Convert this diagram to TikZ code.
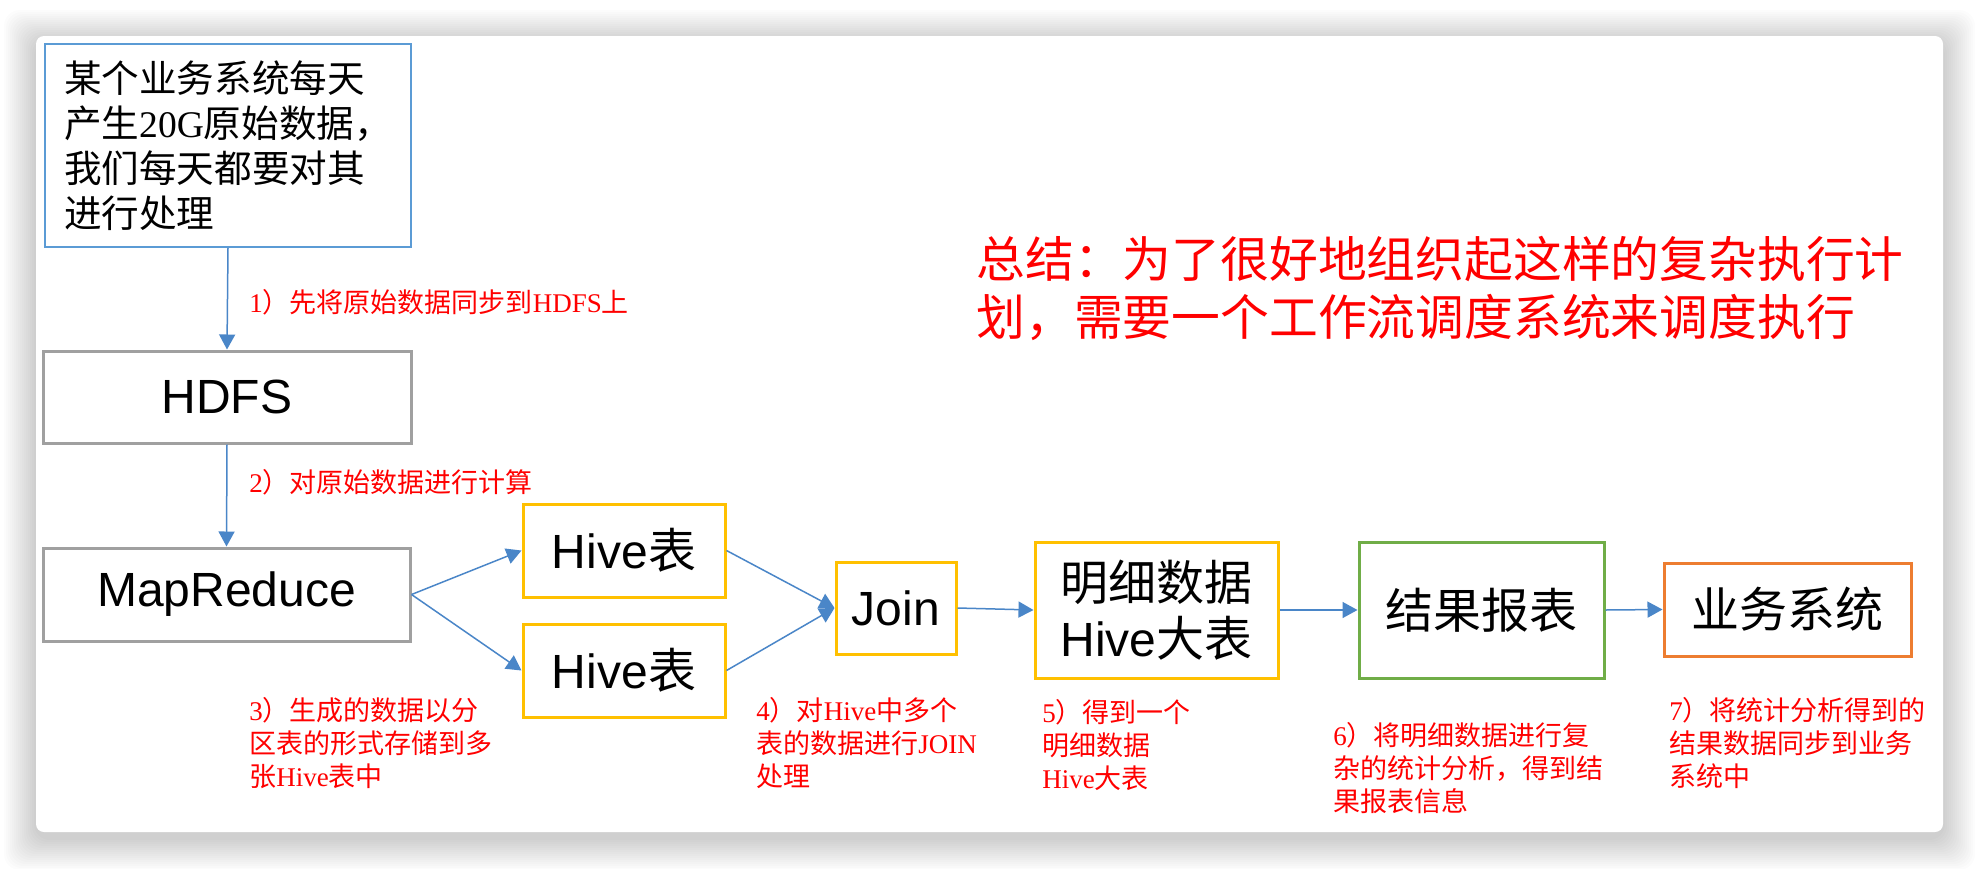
\documentclass[tikz,border=0pt]{standalone}
\usepackage{fontspec}
\setmainfont{Liberation Serif}
\newfontfamily\zhfont{Noto Sans CJK SC}
\newfontfamily\arialfont{Liberation Sans}
\usetikzlibrary{arrows.meta}
\newcommand\zh[1]{{\zhfont #1}}
\definecolor{arrowblue}{RGB}{74,134,200}
\definecolor{boxblue}{RGB}{91,155,213}
\definecolor{boxgray}{RGB}{160,160,160}
\definecolor{boxorange}{RGB}{255,192,0}
\definecolor{boxgreen}{RGB}{112,173,71}
\definecolor{boxred}{RGB}{237,125,49}
\definecolor{lblred}{RGB}{255,0,0}
\tikzset{
  box/.style={draw, line width=1.5pt, fill=white, inner sep=0pt,
    font={\arialfont\fontsize{24}{28}\selectfont}, align=center},
  lbl/.style={text=lblred, font={\fontsize{13.5}{16.5}\selectfont}, align=left,
    inner sep=0pt, anchor=north west},
  conn/.style={draw=arrowblue, line width=0.75pt,
    -{Triangle[width=8pt,length=7.5pt]}}
}
\begin{document}
\begin{tikzpicture}[x=0.5pt,y=-0.5pt]
\useasboundingbox (0,0) rectangle (1980,868);
\fill[white] (0,0) rectangle (1980,868);
% shadow
\foreach \i in {1,...,16}{
  \fill[black, opacity=0.012, rounded corners=8pt]
    ({36-2*\i},{36-2*\i+6}) rectangle ({1943+2*\i},{832+2*\i+6});
}
% card
\fill[white, rounded corners=4pt] (36,36) rectangle (1943,832);

% nodes
\node[box, draw=boxblue, line width=1pt, minimum width=183pt, minimum height=101.5pt,
  font={\zhfont\fontsize{18.8}{22.5}\selectfont}, align=left]
  (src) at (228,145.5) {某个业务系统每天\\产生{\rmfamily 20G}原始数据，\\我们每天都要对其\\进行处理};
\node[box, draw=boxgray, minimum width=184pt, minimum height=46pt] (hdfs) at (227,397) {HDFS};
\node[box, draw=boxgray, minimum width=183.5pt, minimum height=46.5pt] (mr) at (226.5,594.5) {MapReduce};
\node[box, draw=boxorange, minimum width=101pt, minimum height=46.5pt] (hive1) at (624,550.5) {Hive\zh{表}};
\node[box, draw=boxorange, minimum width=101pt, minimum height=46.5pt] (hive2) at (624,670.5) {Hive\zh{表}};
\node[box, draw=boxorange, minimum width=60pt, minimum height=46pt] (join) at (896,608) {Join};
\node[box, draw=boxorange, minimum width=121.5pt, minimum height=68pt] (mx) at (1156.5,610) {\zh{明细数据}\\Hive\zh{大表}};
\node[box, draw=boxgreen, minimum width=122.5pt, minimum height=68pt] (jg) at (1481.5,610) {\zh{结果报表}};
\node[box, draw=boxred, minimum width=123.5pt, minimum height=46.5pt] (yw) at (1787.5,609.5) {\zh{业务系统}};

% connectors
\draw[conn] (src.south) -- (hdfs.north);
\draw[conn] (hdfs.south) -- (mr.north);
\draw[conn] (mr.east) -- (hive1.west);
\draw[conn] (mr.east) -- (hive2.west);
\draw[conn] (hive1.east) -- (join.west);
\draw[conn] (hive2.east) -- (join.west);
\draw[conn] (join.east) -- (mx.west);
\draw[conn] (mx.east) -- (jg.west);
\draw[conn] (jg.east) -- (yw.west);

% labels
\node[lbl, anchor=west] (l1) at (249,302) {1\zh{）先将原始数据同步到}HDFS\zh{上}};
\node[lbl, anchor=west] (l2) at (249,482) {2\zh{）对原始数据进行计算}};
\node[lbl] (l3) at (249,697) {3\zh{）生成的数据以分}\\\zh{区表的形式存储到多}\\\zh{张}Hive\zh{表中}};
\node[lbl] (l4) at (756,697) {4\zh{）对}Hive\zh{中多个}\\\zh{表的数据进行}JOIN\\\zh{处理}};
\node[lbl] (l5) at (1042,699) {5\zh{）得到一个}\\\zh{明细数据}\\Hive\zh{大表}};
\node[lbl] (l6) at (1333,722) {6\zh{）将明细数据进行复}\\\zh{杂的统计分析，得到结}\\\zh{果报表信息}};
\node[lbl] (l7) at (1669,697) {7\zh{）将统计分析得到的}\\\zh{结果数据同步到业务}\\\zh{系统中}};
\node[lbl, font={\zhfont\fontsize{24.4}{29}\selectfont}] (sum) at (976,236)
  {总结：为了很好地组织起这样的复杂执行计\\划，需要一个工作流调度系统来调度执行};
\end{tikzpicture}
\end{document}
